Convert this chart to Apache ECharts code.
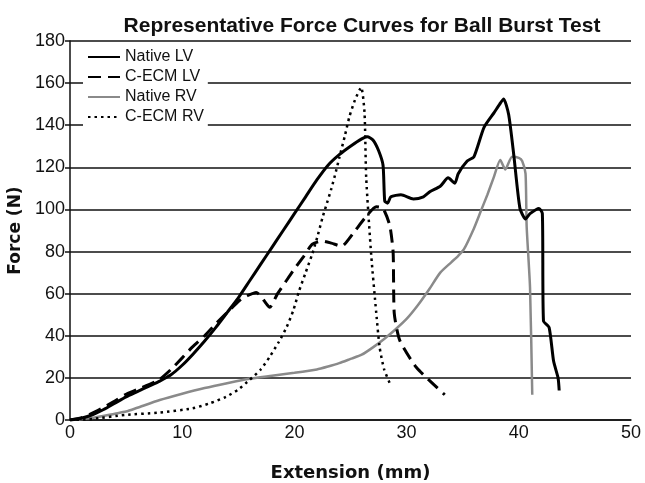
<!DOCTYPE html>
<html>
<head>
<meta charset="utf-8">
<title>Ball Burst Test</title>
<script src="https://cdn.jsdelivr.net/npm/echarts@6/dist/echarts.min.js"></script>
<style>
  html, body { margin: 0; padding: 0; background: #fff; }
  #main { width: 645px; height: 483px; }
</style>
</head>
<body>
<div id="main"></div>
<script>
// series names, in legend order
const seriesNames = ['Native LV', 'C-ECM LV', 'Native RV', 'C-ECM RV']

// [extension (mm), force (N)]
const nativeLV = [[0,0],[1,0.8],[2,2.5],[3,5],[4,8],[5,11],[6,13.5],[7,16],[8,18.5],[9,21.5],[10,26],[11,31.5],[12,37.5],[13,44],[14,51],[15,58],[16,66],[17,74],[18,82],[19,90],[20,98],[21,106],[22,114],[23,121],[24,126],[25,130],[26,133.5],[26.5,134.5],[27,133],[27.5,128],[27.9,121],[28.05,104],[28.3,103],[28.6,106],[29.5,107],[30.6,105],[31.5,106],[32.1,108.5],[33,111],[33.7,115],[34.3,112.5],[34.6,117],[35.4,123],[36,125],[36.9,139],[37.8,146],[38.3,150],[38.65,152.5],[39.1,145],[39.55,126],[40.1,100.5],[40.6,95.5],[41,98],[41.8,100.5],[42.1,98],[42.2,47],[42.7,44],[43.1,28],[43.5,20],[43.6,14]]
const cecmLV = [[0,0],[1,1],[1.9,3],[3,6],[4,9],[4.9,12],[6,14.5],[7.9,19],[9,24],[10,29.5],[10.9,34.6],[12,40],[13,45.7],[14,51],[15.1,56.7],[15.8,59],[16.6,60.6],[17,59],[17.3,56.7],[17.8,53.5],[18.5,60],[19.2,65.5],[19.9,71],[20.8,77.5],[21.6,83.5],[22.5,85],[23.3,84],[24.2,82.5],[25.2,88.4],[26.25,95.7],[27.3,101.3],[27.9,100.5],[28.5,92.4],[28.8,79.6],[28.9,50.6],[29.4,37.7],[30.9,24.8],[33.4,12]]
const nativeRV = [[0,0],[2,1],[4,3],[5,4],[6,5.8],[8,9.5],[10,12.5],[12,15.2],[14,17.5],[16,19.6],[18,21],[20,22.4],[22,24],[23,25.4],[24,27],[25,29],[26,31],[27,34.5],[28,38.5],[29,43],[30,48],[31,54.5],[32,62],[33,70],[34,75],[34.6,78],[35.1,81],[36,91],[36.6,99],[37.2,107],[37.75,115],[38.35,123.5],[38.8,119],[39.4,125],[40,124.5],[40.3,123],[40.6,117],[40.7,92],[41,63],[41.2,12]]
const cecmRV = [[0,0],[2,0.5],[4.9,2.4],[7.9,3.5],[10.9,5.5],[12.5,8],[13.9,11],[15,14.5],[16,19],[17,24],[17.8,30],[18.6,37],[19.3,44],[19.9,52],[20.4,61],[21,70],[21.6,79],[22.1,88],[22.5,96],[22.9,103],[23.3,110],[23.7,118],[24,124.5],[24.5,135],[24.9,144],[25.4,152],[25.95,158],[26.25,146],[26.4,115],[26.85,78],[27.3,50.6],[27.6,34.4],[28,24],[28.5,17.5]]

const chart = echarts.init(document.getElementById('main'), null, { renderer: 'canvas' })

let option = {
  animation: false,
  backgroundColor: '#fff',
  textStyle: { fontFamily: 'Liberation Sans, Arial, sans-serif' },
  title: {
    text: 'Representative Force Curves for Ball Burst Test',
    left: 357,
    textAlign: 'center',
    top: 11,
    textStyle: { fontSize: 21, fontWeight: 'bold', color: '#111' }
  },
  legend: {
    data: seriesNames,
    orient: 'vertical',
    left: 83,
    top: 46,
    padding: [3, 4, 3, 4],
    itemWidth: 32,
    itemHeight: 14,
    itemGap: 4,
    backgroundColor: '#fff',
    itemStyle: { opacity: 0 }, // line only, no marker
    textStyle: { fontSize: 16, color: '#111' }
  },
  grid: { left: 70, right: 14, top: 41, bottom: 63, outerBoundsMode: 'none' },
  xAxis: {
    type: 'value',
    min: 0,
    max: 50,
    interval: 10,
    name: 'Extension (mm)',
    nameLocation: 'middle',
    nameGap: 44,
    nameTextStyle: { fontSize: 18, fontWeight: 'bold', color: '#111', fontFamily: 'DejaVu Sans' },
    axisLine: { lineStyle: { color: '#111', width: 1.5 } },
    axisTick: { show: false },
    axisLabel: { fontSize: 18, color: '#111', margin: 4 },
    splitLine: { show: false }
  },
  yAxis: {
    type: 'value',
    min: 0,
    max: 180,
    interval: 20,
    name: 'Force (N)',
    nameLocation: 'middle',
    nameGap: 39,
    nameTextStyle: { fontSize: 17, fontWeight: 'bold', color: '#111', fontFamily: 'DejaVu Sans' },
    axisLine: { show: true, lineStyle: { color: '#111', width: 1.5 } },
    axisTick: { show: true, length: 5, lineStyle: { color: '#111', width: 1.5 } },
    axisLabel: { fontSize: 18, color: '#111', margin: 5 },
    splitLine: { show: true, lineStyle: { color: '#111', width: 1.5 } }
  },
  series: [
    {
      name: seriesNames[0], type: 'line', data: nativeLV,
      showSymbol: false, symbol: 'none', smooth: 0.2, z: 4,
      lineStyle: { color: '#000', width: 3 },
      itemStyle: { color: '#000' }
    },
    {
      name: seriesNames[1], type: 'line', data: cecmLV,
      showSymbol: false, symbol: 'none', smooth: 0.2, z: 3,
      lineStyle: { color: '#000', width: 3, type: [13, 7] },
      itemStyle: { color: '#000' }
    },
    {
      name: seriesNames[2], type: 'line', data: nativeRV,
      showSymbol: false, symbol: 'none', smooth: 0.2, z: 2,
      lineStyle: { color: '#8a8a8a', width: 2.5 },
      itemStyle: { color: '#8a8a8a' }
    },
    {
      name: seriesNames[3], type: 'line', data: cecmRV,
      showSymbol: false, symbol: 'none', smooth: 0.2, z: 3,
      lineStyle: { color: '#000', width: 2.5, type: [2.5, 4] },
      itemStyle: { color: '#000' }
    }
  ]
}

chart.setOption(option)
</script>
</body>
</html>
